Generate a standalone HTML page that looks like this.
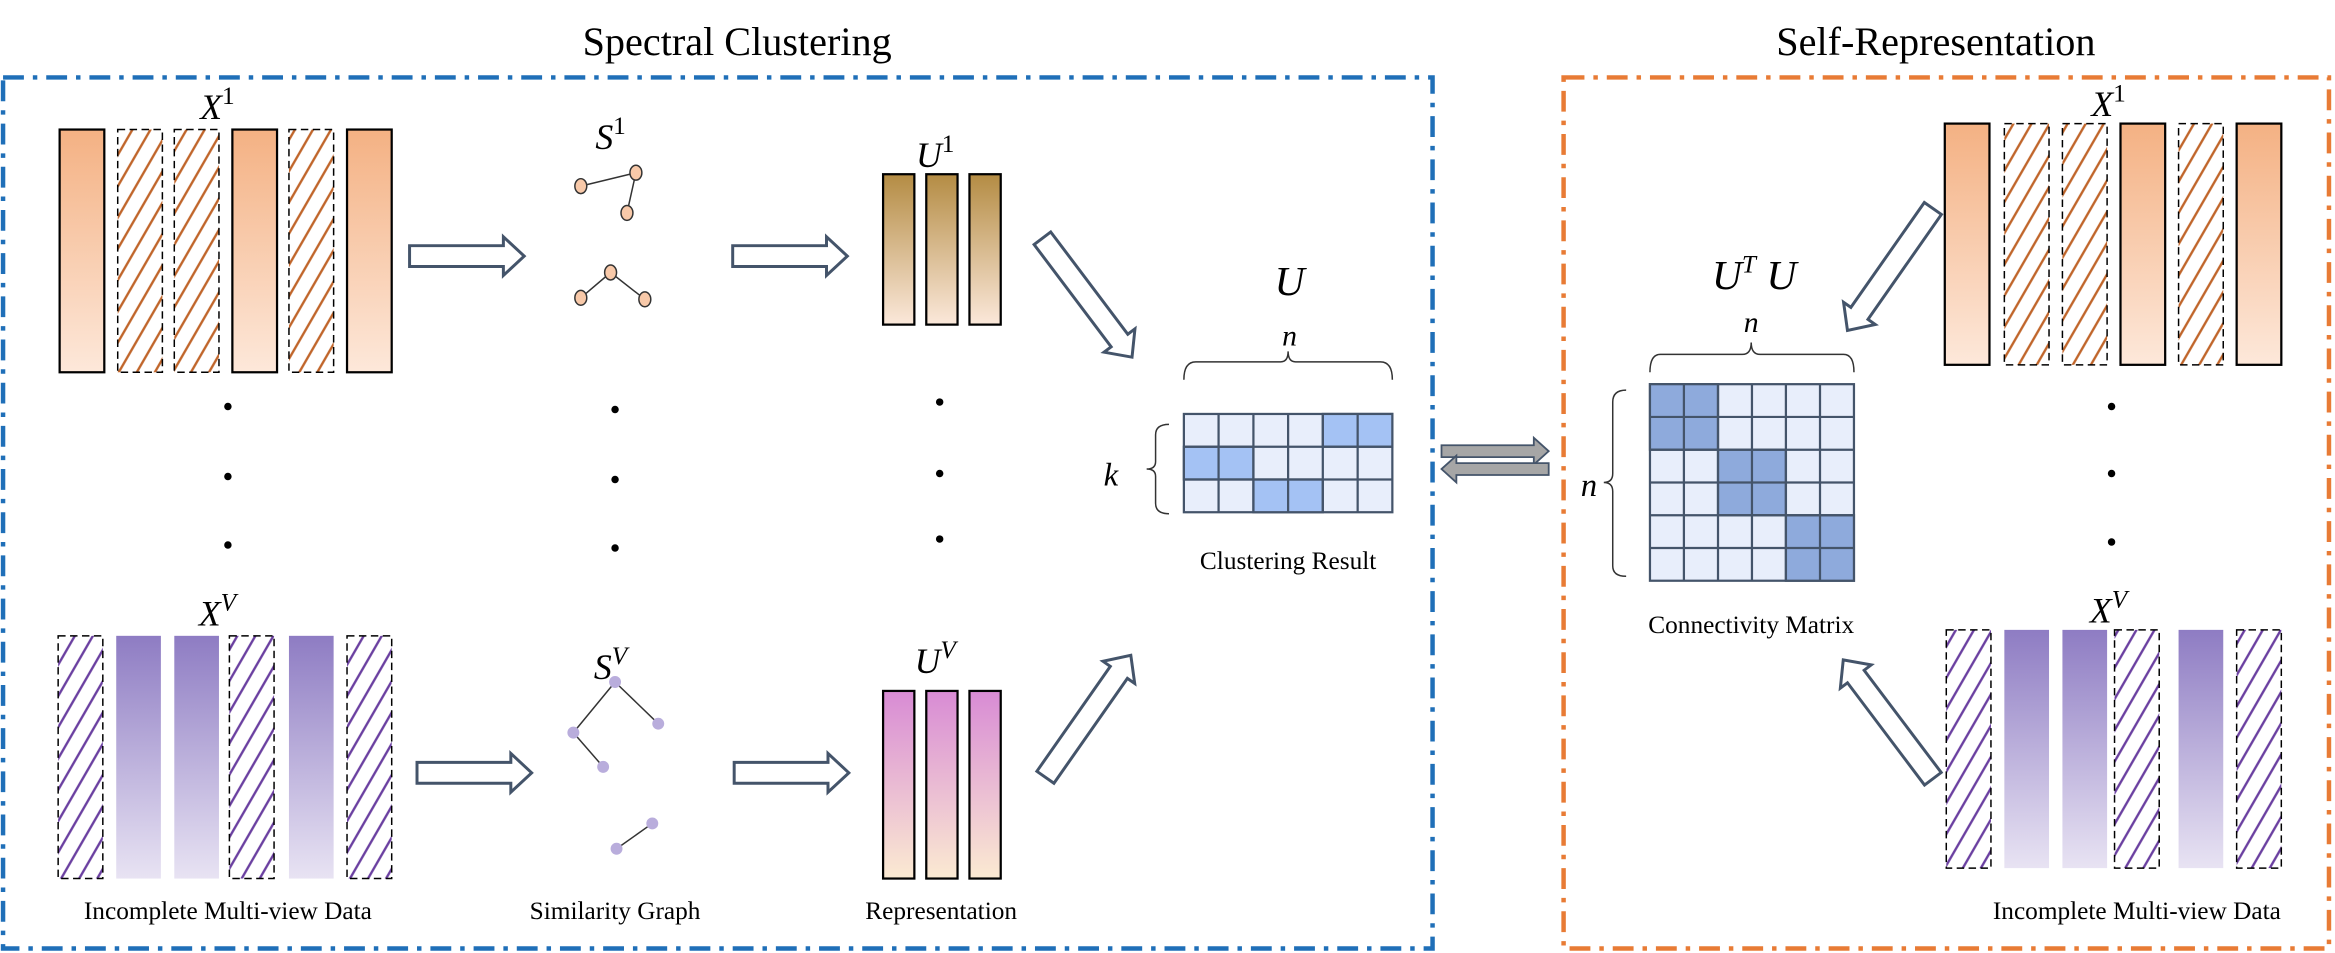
<!DOCTYPE html>
<html><head><meta charset="utf-8"><style>html,body{margin:0;padding:0;background:#fff}svg{display:block}svg text{font-family:"Liberation Serif",serif}</style></head><body>
<svg width="2335" height="953" viewBox="0 0 1568 640" xmlns="http://www.w3.org/2000/svg" font-family="'Liberation Serif', serif">
<defs>
<linearGradient id="go" x1="0" y1="0" x2="0" y2="1"><stop offset="0" stop-color="#f4b183"/><stop offset="1" stop-color="#fde8da"/></linearGradient>
<linearGradient id="gp" x1="0" y1="0" x2="0" y2="1"><stop offset="0" stop-color="#8e7cc3"/><stop offset="1" stop-color="#e8e3f3"/></linearGradient>
<linearGradient id="gb" x1="0" y1="0" x2="0" y2="1"><stop offset="0" stop-color="#b48c44"/><stop offset="1" stop-color="#fbe8da"/></linearGradient>
<linearGradient id="gk" x1="0" y1="0" x2="0" y2="1"><stop offset="0" stop-color="#d88bd4"/><stop offset="1" stop-color="#fbead2"/></linearGradient>
<pattern id="ho" width="10.5" height="10" patternUnits="userSpaceOnUse" patternTransform="rotate(30)"><line x1="5" y1="0" x2="5" y2="10" stroke="#c0652a" stroke-width="1.6"/></pattern>
<pattern id="hp" width="10.5" height="10" patternUnits="userSpaceOnUse" patternTransform="rotate(30)"><line x1="5" y1="0" x2="5" y2="10" stroke="#6a3fa0" stroke-width="1.6"/></pattern>
<polygon id="ar" points="0,-7 86,-7 86,-13 100,0 86,13 86,7 0,7" fill="#fff" stroke="#44546a" stroke-width="2"/>
<polygon id="ah" points="0,-7 63,-7 63,-13 77,0 63,13 63,7 0,7" fill="#fff" stroke="#44546a" stroke-width="2"/>
</defs>
<text x="495" y="37" font-size="27" text-anchor="middle" font-family="'Liberation Serif', serif">Spectral Clustering</text>
<text x="1300" y="37" font-size="27" text-anchor="middle" font-family="'Liberation Serif', serif">Self-Representation</text>
<rect x="2" y="52" width="960" height="585" fill="none" stroke="#1f6fb8" stroke-width="3" stroke-dasharray="14,6,3,6"/>
<rect x="1050" y="52" width="514" height="585" fill="none" stroke="#e87b35" stroke-width="3" stroke-dasharray="14,6,3,6"/>

<g stroke="#000">
<rect x="40" y="87" width="30" height="163" fill="url(#go)" stroke-width="1.5"/>
<rect x="79" y="87" width="30" height="163" fill="url(#ho)" stroke-dasharray="5,3"/>
<rect x="117" y="87" width="30" height="163" fill="url(#ho)" stroke-dasharray="5,3"/>
<rect x="156" y="87" width="30" height="163" fill="url(#go)" stroke-width="1.5"/>
<rect x="194" y="87" width="30" height="163" fill="url(#ho)" stroke-dasharray="5,3"/>
<rect x="233" y="87" width="30" height="163" fill="url(#go)" stroke-width="1.5"/>
<rect x="39" y="427" width="30" height="163" fill="url(#hp)" stroke-dasharray="5,3"/>
<rect x="78" y="427" width="30" height="163" fill="url(#gp)" stroke="none"/>
<rect x="117" y="427" width="30" height="163" fill="url(#gp)" stroke="none"/>
<rect x="154" y="427" width="30" height="163" fill="url(#hp)" stroke-dasharray="5,3"/>
<rect x="194" y="427" width="30" height="163" fill="url(#gp)" stroke="none"/>
<rect x="233" y="427" width="30" height="163" fill="url(#hp)" stroke-dasharray="5,3"/>
<rect x="1306" y="83" width="30" height="162" fill="url(#go)" stroke-width="1.5"/>
<rect x="1346" y="83" width="30" height="162" fill="url(#ho)" stroke-dasharray="5,3"/>
<rect x="1385" y="83" width="30" height="162" fill="url(#ho)" stroke-dasharray="5,3"/>
<rect x="1424" y="83" width="30" height="162" fill="url(#go)" stroke-width="1.5"/>
<rect x="1463" y="83" width="30" height="162" fill="url(#ho)" stroke-dasharray="5,3"/>
<rect x="1502" y="83" width="30" height="162" fill="url(#go)" stroke-width="1.5"/>
<rect x="1307" y="423" width="30" height="160" fill="url(#hp)" stroke-dasharray="5,3"/>
<rect x="1346" y="423" width="30" height="160" fill="url(#gp)" stroke="none"/>
<rect x="1385" y="423" width="30" height="160" fill="url(#gp)" stroke="none"/>
<rect x="1420" y="423" width="30" height="160" fill="url(#hp)" stroke-dasharray="5,3"/>
<rect x="1463" y="423" width="30" height="160" fill="url(#gp)" stroke="none"/>
<rect x="1502" y="423" width="30" height="160" fill="url(#hp)" stroke-dasharray="5,3"/>
<rect x="593" y="117" width="21" height="101" fill="url(#gb)" stroke-width="1.5"/>
<rect x="622" y="117" width="21" height="101" fill="url(#gb)" stroke-width="1.5"/>
<rect x="651" y="117" width="21" height="101" fill="url(#gb)" stroke-width="1.5"/>
<rect x="593" y="464" width="21" height="126" fill="url(#gk)" stroke-width="1.5"/>
<rect x="622" y="464" width="21" height="126" fill="url(#gk)" stroke-width="1.5"/>
<rect x="651" y="464" width="21" height="126" fill="url(#gk)" stroke-width="1.5"/>
</g>

<g font-style="italic" font-size="24" text-anchor="middle" font-family="'Liberation Serif', serif">
<text x="146" y="80">X<tspan font-size="17" dy="-10" font-style="normal">1</tspan></text>
<text x="146" y="420">X<tspan font-size="17" dy="-10">V</tspan></text>
<text x="1416" y="78">X<tspan font-size="17" dy="-10" font-style="normal">1</tspan></text>
<text x="1416" y="418">X<tspan font-size="17" dy="-10">V</tspan></text>
<text x="410" y="100">S<tspan font-size="17" dy="-10" font-style="normal">1</tspan></text>
<text x="410" y="456">S<tspan font-size="17" dy="-10">V</tspan></text>
<text x="628" y="112">U<tspan font-size="17" dy="-10" font-style="normal">1</tspan></text>
<text x="628" y="452">U<tspan font-size="17" dy="-10">V</tspan></text>
<text x="866" y="198" font-size="28">U</text>
<text x="1178" y="194" font-size="28">U<tspan font-size="17" dy="-11">T</tspan><tspan dy="11"> U</tspan></text>
<text x="866" y="232" font-size="20">n</text>
<text x="1176" y="223" font-size="20">n</text>
<text x="746" y="326" font-size="22">k</text>
<text x="1067" y="333" font-size="22">n</text>
</g>

<g fill="#000">
<circle cx="153" cy="273" r="2.5"/><circle cx="153" cy="320" r="2.5"/><circle cx="153" cy="366" r="2.5"/>
<circle cx="413" cy="275" r="2.5"/><circle cx="413" cy="322" r="2.5"/><circle cx="413" cy="368" r="2.5"/>
<circle cx="631" cy="270" r="2.5"/><circle cx="631" cy="318" r="2.5"/><circle cx="631" cy="362" r="2.5"/>
<circle cx="1418" cy="273" r="2.5"/><circle cx="1418" cy="318" r="2.5"/><circle cx="1418" cy="364" r="2.5"/>
</g>

<g stroke="#333" stroke-width="1">
<line x1="390" y1="125" x2="427" y2="116"/><line x1="427" y1="116" x2="421" y2="143"/>
<line x1="410" y1="183" x2="390" y2="200"/><line x1="410" y1="183" x2="433" y2="201"/>
<line x1="413" y1="458" x2="385" y2="492"/><line x1="413" y1="458" x2="442" y2="486"/><line x1="385" y1="492" x2="405" y2="515"/>
<line x1="438" y1="553" x2="414" y2="570"/>
</g>
<g fill="#f8c9a9" stroke="#333" stroke-width="1">
<ellipse cx="390" cy="125" rx="4" ry="5"/><ellipse cx="427" cy="116" rx="4" ry="5"/><ellipse cx="421" cy="143" rx="4" ry="5"/>
<ellipse cx="410" cy="183" rx="4" ry="5"/><ellipse cx="390" cy="200" rx="4" ry="5"/><ellipse cx="433" cy="201" rx="4" ry="5"/>
</g>
<g fill="#b9addc">
<circle cx="413" cy="458" r="4"/><circle cx="385" cy="492" r="4"/><circle cx="442" cy="486" r="4"/><circle cx="405" cy="515" r="4"/><circle cx="438" cy="553" r="4"/><circle cx="414" cy="570" r="4"/>
</g>

<use href="#ah" transform="translate(275,172)"/>
<use href="#ah" transform="translate(280,519)"/>
<use href="#ah" transform="translate(492,172)"/>
<use href="#ah" transform="translate(493,519)"/>
<use href="#ar" transform="translate(700,160) rotate(53)"/>
<use href="#ar" transform="translate(702,522) rotate(-55)"/>
<use href="#ar" transform="translate(1298,140) rotate(125)"/>
<use href="#ar" transform="translate(1298,523) rotate(-127)"/>
<polygon points="968,299 1030,299 1030,294 1040,303 1030,312 1030,307 968,307" fill="#a6a6a6" stroke="#44546a" stroke-width="1.2"/>
<polygon points="1040,311 978,311 978,306 968,315 978,324 978,319 1040,319" fill="#a6a6a6" stroke="#44546a" stroke-width="1.2"/>

<g fill="none" stroke="#333" stroke-width="1">
<path d="M795,255 Q795,243 803,243 L860,243 Q865,243 865,236 Q865,243 870,243 L927,243 Q935,243 935,255"/>
<path d="M785,285 Q776,285 776,292 L776,310 Q776,315 770,315 Q776,315 776,320 L776,338 Q776,345 785,345"/>
<path d="M1108,250 Q1108,238 1115,238 L1170,238 Q1176,238 1176,230 Q1176,238 1182,238 L1238,238 Q1245,238 1245,250"/>
<path d="M1092,262 Q1083,262 1083,270 L1083,318 Q1083,324 1077,324 Q1083,324 1083,330 L1083,380 Q1083,387 1092,387"/>
</g>

<g stroke="#44546a" stroke-width="1.5">
<rect x="795" y="278" width="140" height="66" fill="#e8eefb"/>
<rect x="888.3" y="278" width="46.7" height="22" fill="#a4c2f4"/>
<rect x="795" y="300" width="46.7" height="22" fill="#a4c2f4"/>
<rect x="841.7" y="322" width="46.6" height="22" fill="#a4c2f4"/>
<path d="M818.3,278V344M841.7,278V344M865,278V344M888.3,278V344M911.7,278V344M795,300H935M795,322H935" fill="none"/>
<rect x="1108" y="258" width="137" height="132" fill="#e8eefb"/>
<rect x="1108" y="258" width="45.7" height="44" fill="#8eaadc"/>
<rect x="1153.7" y="302" width="45.6" height="44" fill="#8eaadc"/>
<rect x="1199.3" y="346" width="45.7" height="44" fill="#8eaadc"/>
<path d="M1130.8,258V390M1153.7,258V390M1176.5,258V390M1199.3,258V390M1222.2,258V390M1108,280H1245M1108,302H1245M1108,324H1245M1108,346H1245M1108,368H1245" fill="none"/>
</g>

<g font-size="17" text-anchor="middle" font-family="'Liberation Serif', serif">
<text x="865" y="382">Clustering Result</text>
<text x="1176" y="425">Connectivity Matrix</text>
<text x="153" y="617">Incomplete Multi-view Data</text>
<text x="413" y="617">Similarity Graph</text>
<text x="632" y="617">Representation</text>
<text x="1435" y="617">Incomplete Multi-view Data</text>
</g>
</svg>
</body></html>
